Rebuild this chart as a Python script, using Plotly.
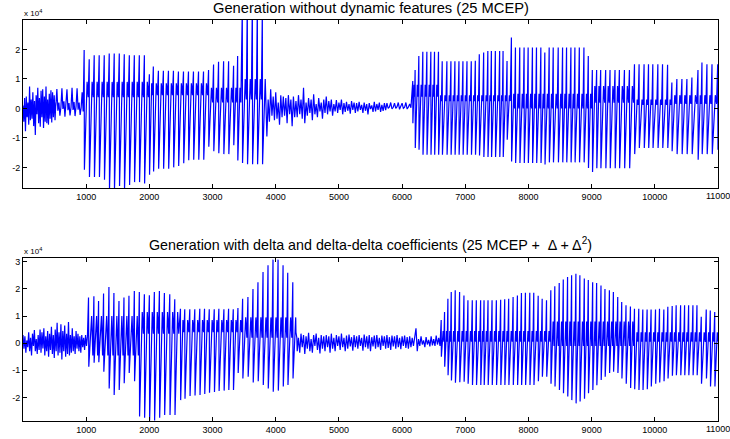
import numpy as np
import plotly.graph_objects as go

# ---------------------------------------------------------------------------
# Waveform data (amplitudes in units of 1e4, positions in samples)
# ---------------------------------------------------------------------------

# ---- top panel: generation without dynamic features ----
top_noise1_start, top_noise1_step = 0, 13
top_noise1 = [0.10, -0.45, 0.35, -0.77, 0.40, -0.30, 0.20, -0.55, 0.74, -0.40, 0.30,
              -0.35, 0.55, -0.60, 0.25, -0.90, 0.45, -0.20, 0.70, -0.50, 0.35, -0.62,
              0.60, -0.30, 0.65, -0.66, 0.40, -0.45, 0.74, -0.50, 0.30, -0.55, 0.50,
              -0.35, 0.62, -0.48, 0.55, -0.30, 0.45, -0.40, 0.20]
top_noise2_start, top_noise2_step = 520, 16
top_noise2 = [0.10, 0.66, -0.08, 0.20, -0.25, 0.05, 0.68, -0.02, 0.24, -0.28, 0.06, 0.65,
              -0.06, 0.18, -0.24, 0.04, 0.70, -0.05, 0.22, -0.26, 0.08, 0.68, -0.04, 0.20,
              -0.22, 0.02, 0.55, -0.10]

top_A_pos = [968, 1048, 1127, 1206, 1286, 1365, 1444, 1524, 1603, 1683, 1762, 1841, 1921]
top_A_hi = [1.98, 1.67, 1.80, 1.80, 1.80, 1.86, 1.86, 1.86, 1.84, 1.80, 1.80, 1.80, 1.80]
top_A_lo = [-2.08, -2.33, -2.33, -2.33, -2.42, -2.75, -2.75, -2.63, -2.75, -2.60, -2.50, -2.50, -2.55]
top_A_band_from, top_A_band_hi, top_A_band_lo = [968], [0.90], [0.38]

top_B_pos = [2000, 2063, 2143, 2222, 2302, 2381, 2460, 2540, 2619, 2698, 2778, 2857, 2937,
             3016, 3095, 3175, 3254, 3333, 3397]
top_B_hi = [1.16, 1.42, 1.28, 1.28, 1.28, 1.28, 1.25, 1.25, 1.25, 1.25, 1.25, 1.25, 1.30,
            1.49, 1.58, 1.60, 1.60, 1.45, 1.78]
top_B_lo = [-2.25, -2.14, -2.05, -2.05, -2.05, -2.00, -1.95, -1.86, -1.76, -1.74, -1.74,
            -1.74, -1.30, -1.45, -1.52, -1.55, -1.55, -1.25, -1.77]
top_B_band_from, top_B_band_hi, top_B_band_lo = [2000, 2937], [0.85, 0.70], [0.45, 0.20]

top_C_pos = [3471, 3550, 3630, 3709, 3788]
top_C_hi = [3.40, 3.60, 3.60, 3.50, 3.30]
top_C_lo = [-1.85, -1.89, -1.89, -1.89, -1.89]
top_C_band_from, top_C_band_hi, top_C_band_lo = [3471], [1.00], [0.30]

top_noise3_start, top_noise3_step = 3840, 20
top_noise3 = [0.45, -0.95, 0.30, -0.45, 0.65, -0.25, 0.40, -0.40, 0.55, -0.35, 0.20, -0.55,
              0.45, -0.30, 0.40, -0.25, 0.35, -0.50, 0.45, -0.20, 0.30, -0.60, 0.40, -0.30,
              0.25, -0.30, 0.45, -0.20, 0.30, -0.35, 0.70, -0.50, 0.20, -0.25, 0.35, -0.15,
              0.30, -0.40, 0.48, -0.20, 0.15, -0.30, 0.35, -0.10, 0.20, -0.35, 0.30, -0.15,
              0.40, -0.20, 0.25, -0.10, 0.30, -0.25, 0.15, -0.10, 0.28, -0.15, 0.20, -0.05,
              0.30, -0.20, 0.18, -0.12, 0.22, -0.08, 0.15, -0.18, 0.25, -0.05, 0.20, -0.15,
              0.18, -0.10, 0.22, -0.05, 0.12, -0.15, 0.20, -0.08, 0.15, -0.20, 0.18, -0.02,
              0.10, -0.12, 0.22, -0.10, 0.15, -0.05, 0.20, -0.12, 0.12, -0.08, 0.18, -0.06,
              0.18, 0.00, 0.05, 0.20, -0.02, 0.04, 0.18, 0.00, 0.06, 0.20, -0.03, 0.05,
              0.18, 0.00, 0.04, 0.20, -0.02, 0.05, 0.15, 0.02]

top_E_pos = [6169, 6206, 6265, 6328, 6392, 6455, 6513, 6576, 6635, 6709, 6773, 6836, 6900,
             6963, 7027, 7095, 7159, 7222, 7291, 7357, 7413, 7476, 7544, 7598, 7661]
top_E_hi = [0.93, 1.30, 1.78, 1.92, 1.92, 1.92, 1.92, 1.92, 1.60, 1.60, 1.60, 1.60, 1.60,
            1.60, 1.60, 1.60, 1.62, 1.84, 1.90, 1.95, 1.95, 1.95, 1.95, 1.95, 1.61]
top_E_lo = [-0.50, -1.34, -1.40, -1.57, -1.57, -1.57, -1.57, -1.57, -1.57, -1.57, -1.57,
            -1.57, -1.57, -1.57, -1.57, -1.57, -1.57, -1.60, -1.65, -1.65, -1.65, -1.65,
            -1.65, -1.65, -1.06]
top_E_band_from, top_E_band_hi, top_E_band_lo = [6169, 6576], [0.80, 0.45], [0.40, 0.25]

top_F_pos = [7730, 7794, 7862, 7931, 7995, 8063, 8127, 8196, 8259, 8328, 8392, 8471, 8540,
             8603, 8672, 8735, 8805, 8878, 8947, 9011, 9079, 9143, 9222, 9291, 9370, 9439,
             9519, 9598, 9678, 9751, 9830, 9900, 9968, 10048, 10122, 10202, 10270, 10349,
             10429, 10508, 10587, 10683, 10746, 10825, 10905, 10995]
top_F_hi = [2.41, 2.07, 2.07, 2.07, 2.07, 2.07, 2.07, 2.07, 1.90, 2.07, 2.07, 2.07, 2.07,
            2.07, 2.07, 2.07, 2.07, 2.07, 1.78, 1.30, 1.30, 1.30, 1.30, 1.30, 1.30, 1.30,
            1.30, 1.30, 1.50, 1.50, 1.50, 1.50, 1.50, 1.50, 1.50, 1.48, 0.88, 1.00, 1.00,
            1.00, 1.05, 1.30, 1.56, 1.50, 1.50, 1.50]
top_F_lo = [-1.80, -1.85, -1.85, -1.85, -1.85, -1.85, -1.85, -1.85, -1.90, -1.83, -1.83,
            -1.83, -1.83, -1.83, -1.83, -1.83, -1.83, -1.83, -2.02, -2.16, -2.03, -2.03,
            -2.03, -2.03, -2.03, -2.03, -2.03, -2.03, -1.55, -1.34, -1.34, -1.34, -1.34,
            -1.34, -1.34, -1.34, -1.45, -1.55, -1.55, -1.55, -1.55, -1.74, -1.55, -1.55,
            -1.55, -1.40]
top_F_band_from = [7730, 9011, 9678, 10270]
top_F_band_hi = [0.50, 0.76, 0.30, 0.45]
top_F_band_lo = [0.00, 0.19, 0.12, 0.15]

# ---- bottom panel: generation with delta and delta-delta coefficients ----
bot_noise1_start, bot_noise1_step = 0, 15
bot_noise1 = [0.30, -0.20, 0.25, -0.35, 0.10, -0.15, 0.40, -0.30, 0.20, -0.45, 0.35, -0.10,
              0.48, -0.30, 0.15, -0.40, 0.30, -0.25, 0.50, -0.35, 0.40, -0.20, 0.55, -0.45,
              0.25, -0.30, 0.45, -0.50, 0.35, -0.25, 0.60, -0.40, 0.30, -0.55, 0.50, -0.30,
              0.75, -0.45, 0.40, -0.35, 0.70, -0.60, 0.45, -0.30, 0.65, -0.50, 0.35, -0.40,
              0.78, -0.45, 0.30, -0.35, 0.55, -0.30, 0.25, -0.40, 0.45, -0.20, 0.35, -0.30,
              0.25, -0.35, 0.30, -0.15, 0.20, -0.25, 0.30, -0.10, 0.25]

bot_H_pos = [1037, 1122, 1196, 1275, 1360, 1439, 1519, 1598, 1677, 1762, 1841, 1921, 2000,
             2079, 2159, 2238, 2323, 2402]
bot_H_hi = [1.68, 1.73, 1.55, 1.83, 2.07, 1.85, 1.55, 1.68, 1.75, 1.92, 1.89, 1.80, 1.77,
            1.89, 1.92, 1.85, 1.80, 1.62]
bot_H_lo = [-0.87, -0.72, -0.70, -1.05, -1.67, -1.91, -1.73, -1.48, -1.10, -1.40, -2.70,
            -2.75, -2.85, -2.85, -2.75, -2.65, -2.65, -2.65]
bot_H_band_from, bot_H_band_hi, bot_H_band_lo = [1037, 1841], [1.00, 1.15], [-0.45, 0.35]

bot_I_pos = [2492, 2560, 2640, 2719, 2798, 2873, 2948, 3027, 3100, 3180, 3254, 3328, 3402]
bot_I_hi = [1.27, 1.25, 1.25, 1.25, 1.27, 1.27, 1.25, 1.25, 1.27, 1.25, 1.27, 1.25, 1.30]
bot_I_lo = [-2.10, -2.05, -1.95, -1.93, -1.91, -1.87, -1.83, -1.80, -1.76, -1.75, -1.73,
            -1.73, -1.10]
bot_I_band_from, bot_I_band_hi, bot_I_band_lo = [2492], [0.85], [0.40]

bot_J_pos = [3476, 3560, 3640, 3719, 3799, 3878, 3957, 4037, 4116, 4190, 4270]
bot_J_hi = [1.64, 1.70, 2.00, 2.25, 2.62, 2.87, 3.08, 3.08, 2.87, 2.60, 2.25]
bot_J_lo = [-1.30, -1.24, -1.45, -1.40, -1.54, -1.67, -1.79, -1.75, -1.60, -1.54, -1.30]
bot_J_band_from, bot_J_band_hi, bot_J_band_lo = [3476], [0.95], [0.20]

bot_noise2_start, bot_noise2_step = 4320, 20
bot_noise2 = [0.40, -0.30, 0.20, -0.35, 0.35, -0.15, 0.30, -0.40, 0.25, -0.20, 0.38, -0.30,
              0.15, -0.35, 0.30, -0.10, 0.35, -0.25, 0.20, -0.38, 0.30, -0.20, 0.25, -0.30,
              0.30, -0.15, 0.25, -0.35, 0.35, -0.20, 0.20, -0.30, 0.30, -0.10, 0.25, -0.25,
              0.35, -0.15, 0.20, -0.30, 0.28, -0.20, 0.32, -0.12, 0.22, -0.28, 0.30, -0.15,
              0.25, -0.20, 0.30, -0.10, 0.20, -0.28, 0.32, -0.15, 0.25, -0.20, 0.30, -0.30,
              0.22, -0.12, 0.28, -0.20, 0.30, -0.15, 0.20, -0.25, 0.28, -0.10, 0.25, -0.20,
              0.30, -0.18, 0.22, -0.25, 0.28, -0.12, 0.25, -0.20, 0.30, -0.15, 0.20, -0.22,
              0.25, -0.10, 0.28, -0.18, 0.22, -0.20, 0.25, -0.15, 0.20, -0.10, 0.30, 0.55,
              -0.30, 0.15, -0.10, 0.25, -0.05, 0.10, -0.15, 0.22, -0.05, 0.12, -0.12, 0.25,
              -0.08, 0.15, -0.10, 0.28, -0.05, 0.20, -0.10]

bot_L_pos = [6619, 6672, 6725, 6778, 6841, 6910, 6979, 7042, 7111, 7175, 7243, 7297, 7360,
             7424, 7492, 7560, 7624, 7687, 7757, 7825, 7889, 7952, 8021, 8084, 8154, 8217,
             8286, 8354, 8417, 8487, 8551, 8619, 8683, 8751, 8814, 8884, 8947, 9016, 9079,
             9148, 9211, 9281, 9344, 9413, 9476, 9544, 9614, 9678, 9746, 9810, 9878, 9941,
             10011, 10074, 10143, 10206, 10275, 10338, 10408, 10471, 10535, 10603, 10667,
             10735, 10814, 10878, 10948]
bot_L_hi = [0.85, 1.15, 1.64, 1.89, 1.95, 1.89, 1.76, 1.58, 1.58, 1.58, 1.58, 1.58, 1.58,
            1.58, 1.58, 1.60, 1.62, 1.64, 1.70, 1.76, 1.85, 1.86, 1.86, 1.86, 1.75, 1.64,
            1.58, 1.95, 2.10, 2.22, 2.35, 2.44, 2.50, 2.56, 2.50, 2.38, 2.33, 2.25, 2.22,
            2.13, 2.00, 1.95, 1.89, 1.70, 1.52, 1.40, 1.35, 1.27, 1.27, 1.24, 1.24, 1.24,
            1.24, 1.27, 1.24, 1.34, 1.37, 1.40, 1.40, 1.40, 1.40, 1.40, 1.40, 0.97, 1.24,
            1.20, 1.15]
bot_L_lo = [-0.50, -0.87, -1.18, -1.38, -1.46, -1.44, -1.42, -1.50, -1.54, -1.54, -1.54,
            -1.54, -1.54, -1.54, -1.54, -1.54, -1.54, -1.54, -1.54, -1.54, -1.54, -1.54,
            -1.54, -1.54, -1.40, -1.24, -1.24, -1.50, -1.60, -1.73, -1.85, -1.97, -2.10,
            -2.22, -2.15, -2.05, -1.85, -1.73, -1.55, -1.36, -1.24, -1.10, -1.05, -1.10,
            -1.30, -1.50, -1.65, -1.70, -1.73, -1.73, -1.70, -1.60, -1.50, -1.45, -1.40,
            -1.30, -1.20, -1.18, -1.18, -1.18, -1.18, -1.18, -1.18, -1.50, -1.30, -1.60,
            -1.60]
bot_L_band_from = [6619, 8354, 9678]
bot_L_band_hi = [0.45, 0.80, 0.40]
bot_L_band_lo = [0.05, -0.10, 0.05]

TITLE_TOP = "Generation without dynamic features (25 MCEP)"
TITLE_BOT = "Generation with delta and delta-delta coefficients (25 MCEP +  \u0394 + \u0394<sup>2</sup>)"
X_TICKS = [1000, 2000, 3000, 4000, 5000, 6000, 7000, 8000, 9000, 10000, 11000]
TOP_Y_TICKS = [-2, -1, 0, 1, 2]
BOT_Y_TICKS = [-2, -1, 0, 1, 2, 3]


# ---------------------------------------------------------------------------
def noise_points(start, step, vals):
    x = start + step * np.arange(len(vals))
    return list(x), list(vals)


def pulse_points(pos, hi, lo, band_from, band_hi, band_lo):
    """Each glottal period: sharp peak, drop to the trough, a slow rise
    into the ringing band, one stroke across it, then the next pulse."""
    pos = np.asarray(pos, float)
    per = np.diff(pos)
    per = np.append(per, per[-1])
    idx = np.searchsorted(band_from, pos, side="right") - 1
    xs, ys = [], []
    for t, p, h, l, k in zip(pos, per, hi, lo, idx):
        bh, bl = band_hi[k], band_lo[k]
        xs += [t, t + 0.05 * p, t + 0.58 * p, t + 0.80 * p]
        ys += [h, l, bh, bl]
    return xs, ys


def assemble(parts):
    xs, ys = [], []
    for px, py in parts:
        xs += list(px)
        ys += list(py)
    order = np.argsort(xs, kind="stable")
    return np.asarray(xs)[order], np.asarray(ys)[order] * 1e4


top_x, top_y = assemble([
    noise_points(top_noise1_start, top_noise1_step, top_noise1),
    noise_points(top_noise2_start, top_noise2_step, top_noise2),
    pulse_points(top_A_pos, top_A_hi, top_A_lo, top_A_band_from, top_A_band_hi, top_A_band_lo),
    pulse_points(top_B_pos, top_B_hi, top_B_lo, top_B_band_from, top_B_band_hi, top_B_band_lo),
    pulse_points(top_C_pos, top_C_hi, top_C_lo, top_C_band_from, top_C_band_hi, top_C_band_lo),
    noise_points(top_noise3_start, top_noise3_step, top_noise3),
    pulse_points(top_E_pos, top_E_hi, top_E_lo, top_E_band_from, top_E_band_hi, top_E_band_lo),
    pulse_points(top_F_pos, top_F_hi, top_F_lo, top_F_band_from, top_F_band_hi, top_F_band_lo),
])

bot_x, bot_y = assemble([
    noise_points(bot_noise1_start, bot_noise1_step, bot_noise1),
    pulse_points(bot_H_pos, bot_H_hi, bot_H_lo, bot_H_band_from, bot_H_band_hi, bot_H_band_lo),
    pulse_points(bot_I_pos, bot_I_hi, bot_I_lo, bot_I_band_from, bot_I_band_hi, bot_I_band_lo),
    pulse_points(bot_J_pos, bot_J_hi, bot_J_lo, bot_J_band_from, bot_J_band_hi, bot_J_band_lo),
    noise_points(bot_noise2_start, bot_noise2_step, bot_noise2),
    pulse_points(bot_L_pos, bot_L_hi, bot_L_lo, bot_L_band_from, bot_L_band_hi, bot_L_band_lo),
])

W, H = 730, 439
FONT = "Liberation Sans, Arial, sans-serif"
LINE = dict(color="#0000ff", width=1.2)

fig = go.Figure()
fig.add_trace(go.Scatter(x=top_x, y=top_y, mode="lines", line=LINE, xaxis="x", yaxis="y",
                         showlegend=False, hoverinfo="skip"))
fig.add_trace(go.Scatter(x=bot_x, y=bot_y, mode="lines", line=LINE, xaxis="x2", yaxis="y2",
                         showlegend=False, hoverinfo="skip"))

xdom = [23 / W, 718 / W]
top_dom = [1 - 188 / H, 1 - 20 / H]
bot_dom = [1 - 421 / H, 1 - 258 / H]

axis_common = dict(showline=True, linecolor="black", linewidth=1, mirror="ticks",
                   ticks="inside", ticklen=4, tickcolor="black", showgrid=False,
                   zeroline=False, automargin=False,
                   tickfont=dict(family=FONT, size=9, color="black"))
x_text = [str(v) for v in X_TICKS]

fig.update_layout(
    template="none",
    width=W, height=H, margin=dict(l=0, r=0, t=0, b=0, pad=0),
    paper_bgcolor="white", plot_bgcolor="white",
    xaxis=dict(domain=xdom, range=[0, 11000], anchor="y", tickvals=X_TICKS,
               ticktext=x_text, **axis_common),
    yaxis=dict(domain=top_dom, range=[-2.7e4, 3.0e4], anchor="x",
               tickvals=[v * 1e4 for v in TOP_Y_TICKS],
               ticktext=[str(v) for v in TOP_Y_TICKS], **axis_common),
    xaxis2=dict(domain=xdom, range=[0, 11000], anchor="y2", tickvals=X_TICKS,
                ticktext=x_text, **axis_common),
    yaxis2=dict(domain=bot_dom, range=[-2.87e4, 3.14e4], anchor="x2",
                tickvals=[v * 1e4 for v in BOT_Y_TICKS],
                ticktext=[str(v) for v in BOT_Y_TICKS], **axis_common),
)

annotations = [
    dict(text=TITLE_TOP, x=370.5 / W, y=1 - 8 / H, xref="paper", yref="paper",
         showarrow=False, font=dict(family=FONT, size=14.7, color="black"),
         xanchor="center", yanchor="middle"),
    dict(text=TITLE_BOT, x=370.5 / W, y=1 - 244 / H, xref="paper", yref="paper",
         showarrow=False, font=dict(family=FONT, size=14.3, color="black"),
         xanchor="center", yanchor="middle"),
    dict(text="x 10<sup>4</sup>", x=22 / W, y=1 - 13 / H, xref="paper", yref="paper",
         showarrow=False, font=dict(family=FONT, size=8, color="black"),
         xanchor="left", yanchor="middle"),
    dict(text="x 10<sup>4</sup>", x=22 / W, y=1 - 251 / H, xref="paper", yref="paper",
         showarrow=False, font=dict(family=FONT, size=8, color="black"),
         xanchor="left", yanchor="middle"),
]
# the last tick label sits on the right border and runs past the page edge
for xa, ya in (("x", 1 - 188 / H), ("x2", 1 - 421 / H)):
    annotations.append(dict(text=str(X_TICKS[-1]), x=X_TICKS[-1], xref=xa,
                            y=ya, yref="paper", yshift=-8, showarrow=False,
                            font=dict(family=FONT, size=9, color="black"),
                            xanchor="center", yanchor="middle"))
fig.update_layout(annotations=annotations)

fig.write_html("out.html")
